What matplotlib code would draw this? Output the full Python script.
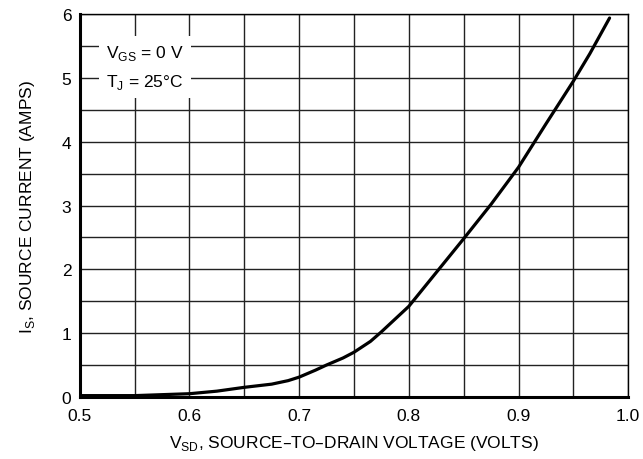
import matplotlib
matplotlib.use("Agg")
from matplotlib import pyplot as plt
from matplotlib.ticker import MultipleLocator

plt.rcParams['font.family'] = ['Liberation Sans Narrow', 'Liberation Sans', 'DejaVu Sans']

# curve
vsd = [0.50, 0.55, 0.60, 0.625, 0.65, 0.675, 0.69, 0.70, 0.715, 0.725, 0.74,
       0.75, 0.765, 0.775, 0.80, 0.825, 0.85, 0.875, 0.90, 0.925, 0.95,
       0.965, 0.983]
i_s = [0.02, 0.02, 0.05, 0.09, 0.15, 0.20, 0.255, 0.31, 0.42, 0.50, 0.61,
       0.70, 0.87, 1.02, 1.42, 1.95, 2.48, 3.02, 3.60, 4.28, 4.95,
       5.38, 5.94]

x_ticks = [0.5, 0.6, 0.7, 0.8, 0.9, 1.0]
x_labels = ["0.5", "0.6", "0.7", "0.8", "0.9", "1.0"]
y_ticks = [0, 1, 2, 3, 4, 5, 6]

fig = plt.figure(figsize=(6.43, 4.60), dpi=100)
ax = fig.add_axes([0.124, 0.135, 0.853, 0.832])

ax.plot(vsd, i_s, color="black", lw=2.3, solid_capstyle="round",
        solid_joinstyle="round", zorder=3)

ax.set_xlim(0.5, 1.0)
ax.set_ylim(0, 6)
ax.set_xticks(x_ticks)
ax.set_xticklabels(x_labels)
ax.set_yticks(y_ticks)
ax.xaxis.set_minor_locator(MultipleLocator(0.05))
ax.yaxis.set_minor_locator(MultipleLocator(0.5))
ax.grid(True, which="both", color="#222222", lw=1.0)
ax.tick_params(which="both", length=0, labelsize=12.5)
ax.tick_params(axis="x", pad=8)
ax.tick_params(axis="y", pad=6)

for side in ["top", "right"]:
    ax.spines[side].set_linewidth(1.0)
ax.spines["left"].set_linewidth(2.2)
ax.spines["bottom"].set_linewidth(2.2)

ax.set_xlabel("V$_{\\mathregular{SD}}$, SOURCE\u2013TO\u2013DRAIN VOLTAGE (VOLTS)", fontsize=12.5, labelpad=7)
ax.set_ylabel("I$_{\\mathregular{S}}$, SOURCE CURRENT (AMPS)", fontsize=12.5, labelpad=18)

ax.text(0.524, 5.17, "V$_{\\mathregular{GS}}$ = 0 V\nT$_{\\mathregular{J}}$ = 25\u00b0C", fontsize=12.5,
        va="center", ha="left", linespacing=1.7,
        bbox=dict(facecolor="white", edgecolor="none", pad=5), zorder=4)

fig.savefig("out.png", dpi=100)
